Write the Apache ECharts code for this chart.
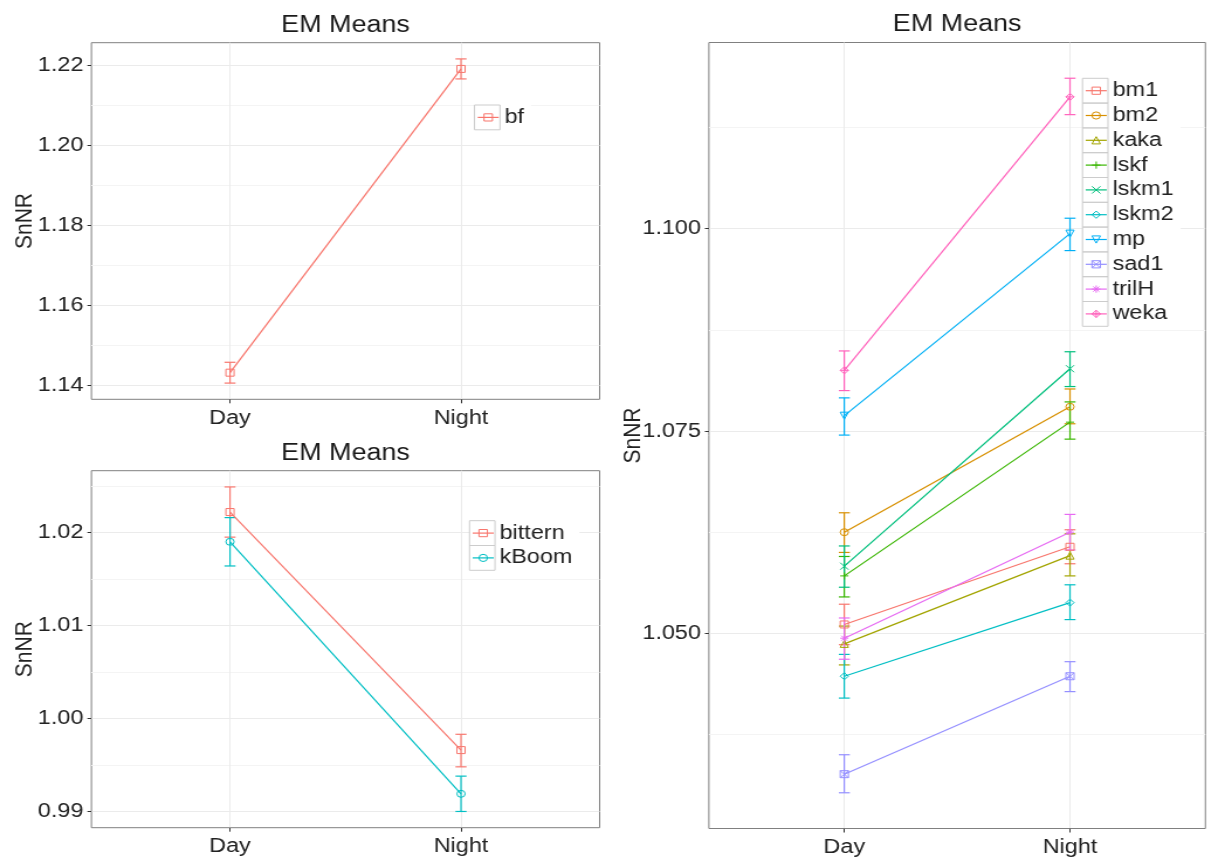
<!DOCTYPE html>
<html>
<head>
<meta charset="utf-8">
<title>EM Means</title>
<script src="https://cdn.jsdelivr.net/npm/echarts@6/dist/echarts.min.js"></script>
<style>
  html, body { margin: 0; padding: 0; background: #ffffff; overflow: hidden; }
  /* the figure is drawn narrow and widened horizontally, like the exported plot */
  #chart { height: 859px; transform-origin: 0 0; }
</style>
</head>
<body>
<div id="chart"></div>
<script>
// ---- data -------------------------------------------------------------
const periods = ['Day', 'Night'];

// bf
const bfNames = ['bf'];
const bfMean  = [[1.1432, 1.2191]];
const bfLower = [[1.1406, 1.2166]];
const bfUpper = [[1.1458, 1.2216]];
const bfTicks = [1.14, 1.16, 1.18, 1.20, 1.22];
const bfMinorTicks = [1.15, 1.17, 1.19, 1.21];

// bittern / kBoom
const boomNames = ['bittern', 'kBoom'];
const boomMean  = [[1.0222, 0.9966], [1.0190, 0.9919]];
const boomLower = [[1.0195, 0.9948], [1.0164, 0.9900]];
const boomUpper = [[1.0249, 0.9983], [1.0216, 0.9938]];
const boomTicks = [0.99, 1.00, 1.01, 1.02];
const boomMinorTicks = [0.995, 1.005, 1.015, 1.025];

// other species
const birdNames = ['bm1', 'bm2', 'kaka', 'lskf', 'lskm1', 'lskm2', 'mp', 'sad1', 'trilH', 'weka'];
const birdMean = [
  [1.0511, 1.0607],
  [1.0625, 1.0780],
  [1.0487, 1.0596],
  [1.0571, 1.0761],
  [1.0583, 1.0827],
  [1.0447, 1.0538],
  [1.0769, 1.0994],
  [1.0326, 1.0447],
  [1.0494, 1.0625],
  [1.0825, 1.1163]
];
const birdLower = [
  [1.0486, 1.0586],
  [1.0600, 1.0759],
  [1.0461, 1.0571],
  [1.0545, 1.0740],
  [1.0557, 1.0805],
  [1.0420, 1.0517],
  [1.0745, 1.0973],
  [1.0303, 1.0428],
  [1.0468, 1.0603],
  [1.0800, 1.1141]
];
const birdUpper = [
  [1.0536, 1.0628],
  [1.0649, 1.0802],
  [1.0509, 1.0623],
  [1.0595, 1.0786],
  [1.0608, 1.0848],
  [1.0474, 1.0560],
  [1.0791, 1.1013],
  [1.0350, 1.0465],
  [1.0519, 1.0647],
  [1.0849, 1.1186]
];
const birdTicks = [1.050, 1.075, 1.100];
const birdMinorTicks = [1.0375, 1.0625, 1.0875, 1.1125];

// ---- page geometry ----------------------------------------------------
const PAGE_W = 1213;
const SX = 1.17;                       // horizontal widening of the figure
const sx = v => v / SX;                // page x -> drawing x
const el = document.getElementById('chart');
el.style.width = (PAGE_W / SX) + 'px';
el.style.transform = 'scaleX(' + SX + ')';

// ---- styling ----------------------------------------------------------
const FONT = "'Liberation Sans', Arial, Helvetica, sans-serif";
const TEXT = '#222222';
const hue2  = ['#F8766D', '#00BFC4'];
const hue10 = ['#F8766D', '#D89000', '#A3A500', '#39B600', '#00BF7D',
               '#00BFC4', '#00B0F6', '#9590FF', '#E76BF3', '#FF62BC'];

// open point shapes 0..9
const SHAPES = [
  { symbol: 'rect' },
  { symbol: 'circle' },
  { symbol: 'triangle' },
  { symbol: 'path://M5,0V10M0,5H10' },
  { symbol: 'path://M0,0L10,10M10,0L0,10' },
  { symbol: 'diamond' },
  { symbol: 'triangle', rotate: 180 },
  { symbol: 'path://M0,0H10V10H0ZM0,0L10,10M10,0L0,10' },
  { symbol: 'path://M5,0V10M0,5H10M1.5,1.5L8.5,8.5M8.5,1.5L1.5,8.5' },
  { symbol: 'path://M5,0L10,5L5,10L0,5ZM5,0V10M0,5H10' }
];

const X_MIN = 0.4, X_MAX = 2.6;      // discrete axis with 0.6 padding
const EXPAND = 0.05;                  // 5% continuous expansion
const PITCH = 24.8;                   // legend key height

// panel rectangles and legend anchors in page pixels
const panels = [
  {
    names: bfNames, colors: ['#F8766D'], mean: bfMean, lower: bfLower, upper: bfUpper,
    ticks: bfTicks, minor: bfMinorTicks, digits: 2,
    grid: { left: 91.4, top: 42.7, width: 508.2, height: 356.6 },
    nameGap: 54, legend: { x: 477, y: 105 }
  },
  {
    names: boomNames, colors: hue2, mean: boomMean, lower: boomLower, upper: boomUpper,
    ticks: boomTicks, minor: boomMinorTicks, digits: 2,
    grid: { left: 91.4, top: 470.7, width: 508.2, height: 357 },
    nameGap: 54, legend: { x: 472, y: 520.7 }
  },
  {
    names: birdNames, colors: hue10, mean: birdMean, lower: birdLower, upper: birdUpper,
    ticks: birdTicks, minor: birdMinorTicks, digits: 3,
    grid: { left: 708.9, top: 42.5, width: 496.5, height: 786 },
    nameGap: 63, legend: { x: 1085, y: 78.3 }
  }
];

const option = {
  animation: false,
  backgroundColor: '#ffffff',
  title: [], grid: [], xAxis: [], yAxis: [], legend: [], series: [], graphic: []
};

panels.forEach((p, k) => {
  const g = p.grid;
  option.grid.push({
    left: sx(g.left), top: g.top, width: sx(g.width), height: g.height,
    show: true, borderColor: '#808080', borderWidth: 1, backgroundColor: 'transparent',
    containLabel: false
  });

  option.title.push({
    text: 'EM Means',
    left: sx(g.left + g.width / 2), top: g.top - 29, textAlign: 'center', padding: 0,
    textStyle: { fontFamily: FONT, fontSize: 23, fontWeight: 'normal', color: '#1a1a1a' }
  });

  // y range: data extent (with error bars) plus 5% on each side
  const lo = Math.min(...p.lower.flat());
  const hi = Math.max(...p.upper.flat());
  const pad = (hi - lo) * EXPAND;
  const yMin = lo - pad, yMax = hi + pad;

  option.xAxis.push({
    type: 'value', gridIndex: k, min: X_MIN, max: X_MAX,
    axisLine: { show: false },
    axisTick: { show: true, length: 4, customValues: [1, 2], lineStyle: { color: '#333333' } },
    axisLabel: {
      customValues: [1, 2], margin: 9,
      formatter: v => periods[Math.round(v) - 1] || '',
      fontFamily: FONT, fontSize: 20, color: TEXT
    },
    splitLine: { show: true, lineStyle: { color: '#EBEBEB', width: 1 } }
  });

  // major axis: ticks, labels and major grid
  option.yAxis.push({
    type: 'value', gridIndex: k, min: yMin, max: yMax, position: 'left',
    name: 'SnNR', nameLocation: 'middle', nameGap: sx(p.nameGap), nameMoveOverlap: false,
    nameTextStyle: { fontFamily: FONT, fontSize: 21, color: TEXT },
    axisLine: { show: false },
    axisTick: { show: true, length: sx(4), customValues: p.ticks, lineStyle: { color: '#333333' } },
    axisLabel: {
      customValues: p.ticks, margin: sx(8),
      formatter: v => v.toFixed(p.digits),
      fontFamily: FONT, fontSize: 20, color: TEXT
    },
    splitLine: { show: true, lineStyle: { color: '#EBEBEB', width: 1 } }
  });
  // minor grid only
  option.yAxis.push({
    type: 'value', gridIndex: k, min: yMin, max: yMax, position: 'left',
    axisLine: { show: false },
    axisTick: { show: false, customValues: p.minor },
    axisLabel: { show: false, customValues: p.minor },
    splitLine: { show: true, lineStyle: { color: '#F4F4F4', width: 1 } }
  });

  p.names.forEach((name, i) => {
    const c = p.colors[i];
    const shp = SHAPES[i];
    // error bars
    option.series.push({
      type: 'custom', xAxisIndex: k, yAxisIndex: 2 * k, z: 2, silent: true,
      data: p.mean[i].map((_, j) => [j + 1, p.lower[i][j], p.upper[i][j]]),
      encode: { x: 0, y: [1, 2] },
      renderItem: (params, api) => {
        const x = api.value(0);
        const a = api.coord([x, api.value(1)]);
        const b = api.coord([x, api.value(2)]);
        const w = sx(5.5);
        const st = { stroke: c, lineWidth: 1.2 };
        return {
          type: 'group',
          children: [
            { type: 'line', shape: { x1: a[0], y1: a[1], x2: b[0], y2: b[1] }, style: st },
            { type: 'line', shape: { x1: a[0] - w, y1: a[1], x2: a[0] + w, y2: a[1] }, style: st },
            { type: 'line', shape: { x1: b[0] - w, y1: b[1], x2: b[0] + w, y2: b[1] }, style: st }
          ]
        };
      }
    });
    // means
    option.series.push({
      type: 'line', name: name, xAxisIndex: k, yAxisIndex: 2 * k, z: 3,
      data: p.mean[i].map((v, j) => [j + 1, v]),
      symbol: shp.symbol, symbolRotate: shp.rotate || 0, symbolSize: 7,
      showSymbol: true,
      lineStyle: { color: c, width: 1.2 },
      itemStyle: { color: 'none', borderColor: c, borderWidth: 1 },
      emphasis: { disabled: true }
    });
  });

  option.legend.push({
    orient: 'vertical', left: sx(p.legend.x) - 2, top: p.legend.y,
    padding: [0, 6, 0, 2], itemGap: 0, itemWidth: sx(21), itemHeight: 9,
    selectedMode: false, backgroundColor: '#ffffff',
    data: p.names,
    lineStyle: { width: 1.2 },
    itemStyle: { borderWidth: 1 },
    textStyle: { fontFamily: FONT, fontSize: 20, color: TEXT, lineHeight: PITCH }
  });

  // key boxes around legend symbols
  p.names.forEach((_, i) => {
    option.graphic.push({
      type: 'rect', z: 100, silent: true,
      shape: { x: sx(p.legend.x - 2.5), y: p.legend.y + i * PITCH, width: sx(25.5), height: PITCH },
      style: { fill: 'none', stroke: '#CCCCCC', lineWidth: 1 }
    });
  });
});

const chart = echarts.init(el, null, { renderer: 'canvas' });
chart.setOption(option);
</script>
</body>
</html>
